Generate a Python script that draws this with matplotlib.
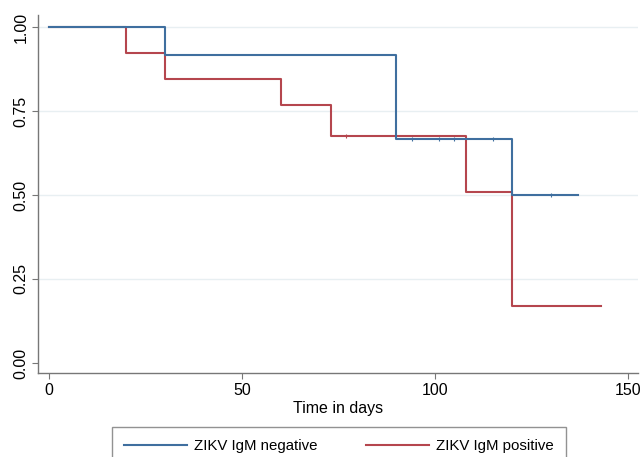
import matplotlib.pyplot as plt

plt.rcParams["font.family"] = ["Liberation Sans", "DejaVu Sans"]

# Kaplan-Meier estimates
neg_times = [0, 30, 90, 120, 137]
neg_surv = [1.0, 0.917, 0.667, 0.5, 0.5]
neg_censor_t = [94, 101, 105, 115, 130]
neg_censor_s = [0.667, 0.667, 0.667, 0.667, 0.5]

pos_times = [0, 20, 30, 60, 73, 108, 120, 143]
pos_surv = [1.0, 0.923, 0.846, 0.769, 0.677, 0.508, 0.169, 0.169]
pos_censor_t = [77]
pos_censor_s = [0.677]

yticks = [0.0, 0.25, 0.50, 0.75, 1.00]
xticks = [0, 50, 100, 150]

blue = "#3f6f9f"
red = "#b5464e"
gray = "#777777"

fig = plt.figure(figsize=(6.42, 4.57), dpi=100)
ax = fig.add_axes([38 / 642, 1 - 373 / 457, 600 / 642, 358 / 457])

for y in yticks[1:]:
    ax.axhline(y, color="#e8eff2", lw=1.0, zorder=0)

ax.step(neg_times, neg_surv, where="post", color=blue, lw=1.5, label="ZIKV IgM negative", zorder=3)
ax.step(pos_times, pos_surv, where="post", color=red, lw=1.5, label="ZIKV IgM positive", zorder=2)
ax.plot(neg_censor_t, neg_censor_s, ls="none", marker="|", ms=3, mew=0.8, color=blue, zorder=3)
ax.plot(pos_censor_t, pos_censor_s, ls="none", marker="|", ms=3, mew=0.8, color=red, zorder=2)

ax.set_xlim(-2.85, 152.6)
ax.set_ylim(-0.0298, 1.0357)
ax.set_xticks(xticks)
ax.set_yticks(yticks)
ax.set_yticklabels([f"{v:.2f}" for v in yticks], rotation=90, va="center")
ax.tick_params(axis="both", length=4, width=0.8, color=gray, labelsize=11.5, pad=3)

for side in ["top", "right"]:
    ax.spines[side].set_visible(False)
for side in ["left", "bottom"]:
    ax.spines[side].set_color(gray)
    ax.spines[side].set_linewidth(1.0)

ax.set_xlabel("Time in days", fontsize=11.5, labelpad=2)

leg = fig.legend(loc="upper center", bbox_to_anchor=(339 / 642, 1 - 427 / 457), ncol=2,
                 frameon=True, fancybox=False, edgecolor=gray, fontsize=10.8,
                 handlelength=4.2, columnspacing=3.2, borderpad=0.8, borderaxespad=0,
                 handletextpad=0.5)
leg.get_frame().set_linewidth(1.0)

fig.savefig("out.png", dpi=100)
